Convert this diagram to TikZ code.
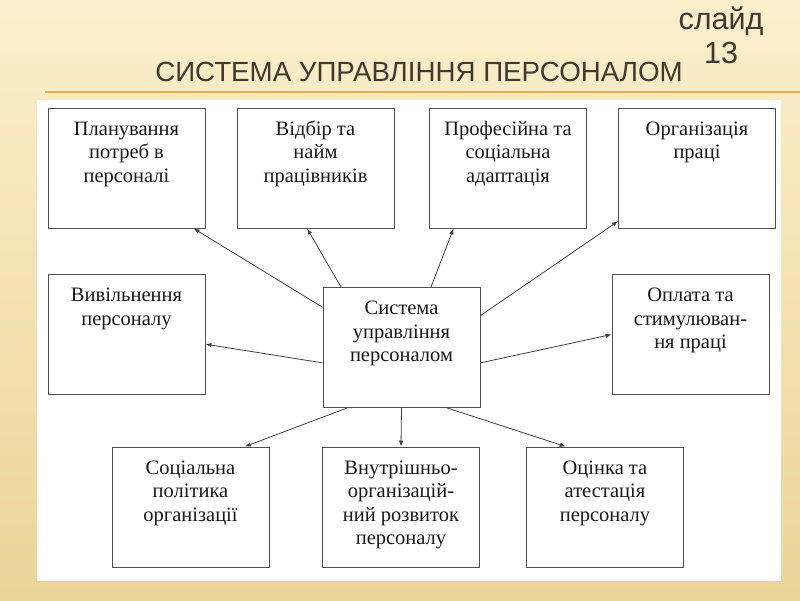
\documentclass[tikz,border=0pt]{standalone}
\usepackage{fontspec}
\setmainfont{Liberation Serif}
\newfontfamily\headfont{Liberation Sans}
\usetikzlibrary{arrows.meta}

\definecolor{bgtop}{HTML}{FBEFCB}
\definecolor{bgbot}{HTML}{EBD498}
\definecolor{titlerule}{HTML}{E9AE55}
\definecolor{headgray}{HTML}{3E3933}
\definecolor{boxline}{HTML}{505050}

% text of a box, set from its top edge
\newcommand{\celltext}[1]{\parbox[c][120pt][t]{157pt}{\centering\rule{0pt}{27pt}#1}}

\begin{document}
\begin{tikzpicture}[x=1pt,y=-1pt,
    unit/.style={draw=boxline, line width=0.9pt, fill=white, inner sep=0pt,
        font=\fontsize{20.5}{23.5}\selectfont, text=black!90},
    link/.style={draw=black!75, line width=0.8pt, -{Latex[length=6pt,width=4.5pt]}}]
    \useasboundingbox (0,0) rectangle (800,600);

    % Slide background and white panel
    \shade[top color=bgtop, bottom color=bgbot] (0,0) rectangle (800,600);
    \draw[titlerule, line width=1.8pt] (45,92) -- (800,92);
    \fill[white] (37,100) rectangle (781,581);

    % Title and slide number
    \node[anchor=base, inner sep=0pt, text=headgray, font=\headfont\fontsize{27.7}{32}\selectfont]
        (title) at (419,81) {СИСТЕМА УПРАВЛІННЯ ПЕРСОНАЛОМ};
    \node[align=center, inner sep=0pt, text=headgray, font=\headfont\fontsize{30.5}{34}\selectfont]
        (slide) at (721,35) {слайд\\13};

    % Top row
    \node[unit] (plan)  at (126.5,168) {\celltext{Планування\\потреб в\\персоналі}};
    \node[unit] (hire)  at (315.5,168) {\celltext{Відбір та\\найм\\працівників}};
    \node[unit] (adapt) at (508,168)   {\celltext{Професійна та\\соціальна\\адаптація}};
    \node[unit] (org)   at (697,168)   {\celltext{Організація\\праці}};

    % Middle row
    \node[unit] (fire) at (126.5,334.5) {\celltext{Вивільнення\\персоналу}};
    \node[unit] (sys)  at (401.5,347.5) {\celltext{Система\\управління\\персоналом}};
    \node[unit] (pay)  at (690.5,334.5) {\celltext{Оплата та\\стимулюван-\\ня праці}};

    % Bottom row
    \node[unit] (soc)  at (190.5,507) {\celltext{Соціальна\\політика\\організації}};
    \node[unit] (dev)  at (401,507)   {\celltext{Внутрішньо-\\організацій-\\ний розвиток\\персоналу}};
    \node[unit] (eval) at (605,507)   {\celltext{Оцінка та\\атестація\\персоналу}};

    % Arrows from the centre
    \draw[link] (sys.153) -- (plan.-42.5);
    \draw[link] (sys.135) -- (hire.-98);
    \draw[link] (sys.64.4) -- (adapt.-132.5);
    \draw[link] (sys.22.5) -- (org.-146);
    \draw[link] (sys.191) -- (fire.-7.5);
    \draw[link] (sys.-11.3) -- (pay.180);
    \draw[link] (sys.-132) -- (soc.48.8);
    \draw[link] (sys.south) -- (dev.north);
    \draw[link] (sys.-53) -- (eval.123);

\end{tikzpicture}
\end{document}
